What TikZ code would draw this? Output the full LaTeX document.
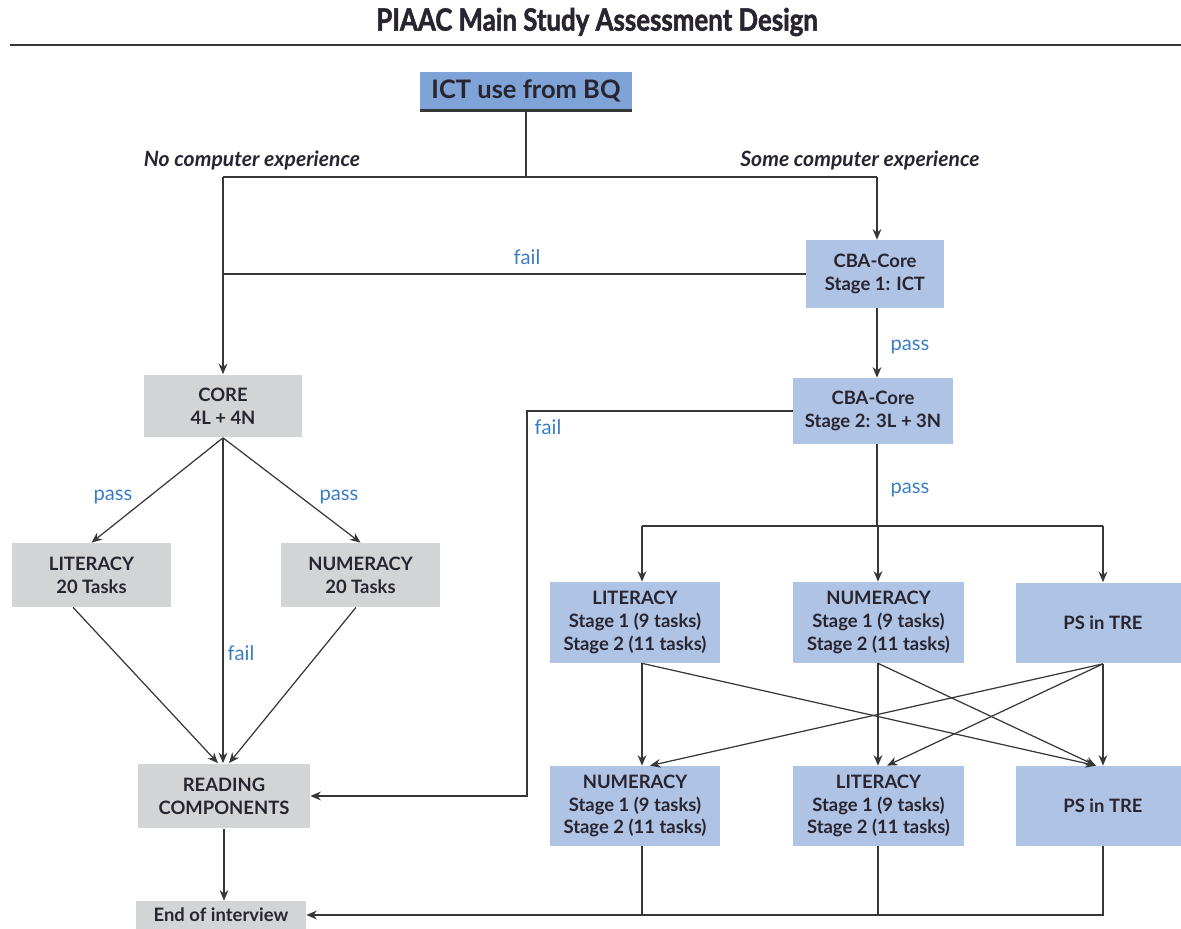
\documentclass[tikz,border=0pt]{standalone}
\usepackage{fontspec}
\setmainfont{Lato}
\newfontfamily\headfont[FakeStretch=0.84,BoldFeatures={FakeBold=1.6}]{Lato}
\usetikzlibrary{arrows.meta}

\definecolor{boxgray}{RGB}{211,212,214}
\definecolor{boxblue}{RGB}{175,195,228}
\definecolor{ictblue}{RGB}{127,163,214}
\definecolor{labblue}{RGB}{58,125,196}
\definecolor{txt}{RGB}{40,36,48}
\definecolor{linegray}{RGB}{55,55,55}

\tikzset{
  box/.style={inner sep=0pt, align=center, text=txt, font=\bfseries\fontsize{10.5}{13}\selectfont},
  graybox/.style={box, fill=boxgray},
  bluebox/.style={box, fill=boxblue},
  lab/.style={text=labblue, font=\fontsize{11.5}{13}\selectfont},
  branch/.style={text=txt, font=\bfseries\itshape\fontsize{12}{14}\selectfont},
  conn/.style={draw=linegray, line width=0.7pt},
}

\begin{document}
\begin{tikzpicture}[x=0.02cm,y=-0.02cm,>={Stealth[length=6pt,width=5pt]}]
	\useasboundingbox (0,0) rectangle (1181,929);
	% title and rule
	\node[text=txt,font=\headfont\bfseries\fontsize{17.5}{20}\selectfont] (title) at (597,22) {PIAAC Main Study Assessment Design};
	\draw[line width=1.3pt,linegray] (10,45) -- (1181,45);

	% boxes
	\node[box,fill=ictblue,minimum width=4.24cm,minimum height=0.76cm,font=\bfseries\fontsize{14.5}{16}\selectfont] (ict) at (526,91) {ICT use from BQ};
	\draw[line width=1.6pt,linegray] (ict.south west) -- (ict.south east);
	\node[bluebox,minimum width=2.76cm,minimum height=1.36cm] (cbaA) at (875,274) {CBA-Core\\Stage 1: ICT};
	\node[bluebox,minimum width=3.2cm,minimum height=1.32cm] (cbaB) at (873,411) {CBA-Core\\Stage 2: 3L + 3N};
	\node[graybox,minimum width=3.18cm,minimum height=1.26cm] (core) at (223,406) {CORE\\4L + 4N};
	\node[graybox,minimum width=3.18cm,minimum height=1.28cm] (litT) at (91.5,575) {LITERACY\\20 Tasks};
	\node[graybox,minimum width=3.18cm,minimum height=1.28cm] (numT) at (360.5,575) {NUMERACY\\20 Tasks};
	\node[graybox,minimum width=3.44cm,minimum height=1.3cm] (read) at (224,796) {READING\\COMPONENTS};
	\node[graybox,minimum width=3.4cm,minimum height=0.56cm] (endi) at (221,915) {End of interview};
	\node[bluebox,minimum width=3.42cm,minimum height=1.62cm] (litA) at (635,622.5) {LITERACY\\Stage 1 (9 tasks)\\Stage 2 (11 tasks)};
	\node[bluebox,minimum width=3.42cm,minimum height=1.62cm] (numA) at (878.5,622.5) {NUMERACY\\Stage 1 (9 tasks)\\Stage 2 (11 tasks)};
	\node[bluebox,minimum width=3.48cm,minimum height=1.62cm] (psA) at (1103,623) {PS in TRE};
	\node[bluebox,minimum width=3.42cm,minimum height=1.6cm] (numB) at (635,806) {NUMERACY\\Stage 1 (9 tasks)\\Stage 2 (11 tasks)};
	\node[bluebox,minimum width=3.42cm,minimum height=1.6cm] (litB) at (878.5,806) {LITERACY\\Stage 1 (9 tasks)\\Stage 2 (11 tasks)};
	\node[bluebox,minimum width=3.48cm,minimum height=1.6cm] (psB) at (1103,806) {PS in TRE};

	% branch labels
	\node[branch] (noexp) at (252,160) {No computer experience};
	\node[branch] (someexp) at (860,160) {Some computer experience};
	\node[lab] (failA) at (527,257) {fail};
	\node[lab] (passA) at (910,347) {pass};
	\node[lab] (failB) at (548,427) {fail};
	\node[lab] (passB) at (910,490) {pass};
	\node[lab] (passL) at (113,497) {pass};
	\node[lab] (passN) at (339,497) {pass};
	\node[lab] (failC) at (241,653) {fail};

	% junctions and columns
	\coordinate (jL) at (223,177);
	\coordinate (jR) at (877,177);
	\coordinate (fk) at (527,796);
	\coordinate (sL) at (642,526);
	\coordinate (sR) at (1103,526);
	\coordinate (cM) at (878,0);
	\coordinate (dL) at (650,0);
	\coordinate (dM) at (887,0);
	\coordinate (dR) at (1096,0);

	% top split
	\draw[conn] (ict.south) -- (ict.south |- jL);
	\draw[conn] (jL) -- (jR);
	\draw[conn,->] (jR) -- (jR |- cbaA.north);
	\draw[conn,->] (jL) -- (core.north);
	\draw[conn] (cbaA.west) -- (cbaA.west -| jL);
	\draw[conn,->] (jR |- cbaA.south) -- (jR |- cbaB.north);
	\draw[conn,->] (cbaB.west) -| (fk) -- (read.east);

	% computer branch
	\draw[conn] (jR |- cbaB.south) -- (jR |- sL);
	\draw[conn] (sL) -- (sR);
	\draw[conn,->] (sL) -- (sL |- litA.north);
	\draw[conn,->] (cM |- sL) -- (cM |- numA.north);
	\draw[conn,->] (sR) -- (psA.north);
	\draw[conn,->] (sL |- litA.south) -- (sL |- numB.north);
	\draw[conn,->] (sL |- litA.south) -- (dR |- psB.north);
	\draw[conn,->] (cM |- numA.south) -- (cM |- litB.north);
	\draw[conn,->] (cM |- numA.south) -- (dR |- psB.north);
	\draw[conn,->] (psA.south) -- (psB.north);
	\draw[conn,->] (psA.south) -- (dL |- numB.north);
	\draw[conn,->] (psA.south) -- (dM |- litB.north);
	\draw[conn] (sL |- numB.south) -- (sL |- endi.east);
	\draw[conn] (cM |- litB.south) -- (cM |- endi.east);
	\draw[conn,->] (psB.south) |- (endi.east);

	% paper branch
	\draw[conn,->] (core.south) -- (litT.north);
	\draw[conn,->] (core.south) -- (numT.north);
	\draw[conn,->] (core.south) -- (core.south |- read.north);
	\draw[conn,->] ([xshift=-0.37cm]litT.south) -- ([xshift=-0.12cm]read.north);
	\draw[conn,->] ([xshift=-0.09cm]numT.south) -- ([xshift=0.1cm]read.north);
	\draw[conn,->] (read.south) -- (read.south |- endi.north);
\end{tikzpicture}
\end{document}
